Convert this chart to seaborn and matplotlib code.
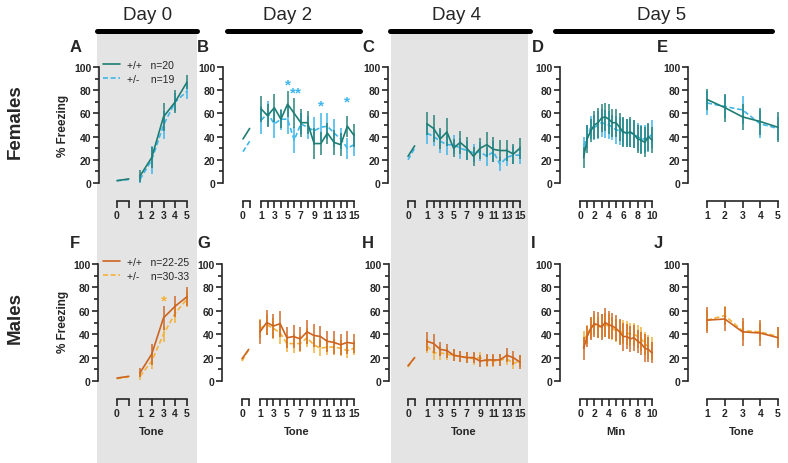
import numpy as np
import pandas as pd
import matplotlib
matplotlib.use("Agg")
import matplotlib.pyplot as plt
from matplotlib.lines import Line2D
import seaborn as sns

# ---------------- data ----------------
tones5 = [1, 2, 3, 4, 5]
tones15 = list(range(1, 16))
base_x = [0, 1]
min_x = [0.5, 1, 1.5, 2, 2.5, 3, 3.5, 4, 4.5, 5, 5.5, 6, 6.5, 7, 7.5, 8, 8.5, 9, 9.5, 10]

# Females
A_wt_base = [2, 3.5];  A_het_base = [2, 3]
A_wt = [6, 22, 57, 70, 87];  A_wt_err = [5, 9, 12, 10, 6]
A_het = [3, 20, 50, 70, 79]; A_het_err = [3, 12, 12, 8, 7]

B_wt_base = [38, 47];  B_het_base = [27, 36]
B_wt = [64, 58, 65, 55, 68, 60, 52, 52, 34, 34, 43, 35, 33, 49, 41]
B_wt_err = [11, 10, 12, 8, 11, 13, 12, 10, 13, 10, 9, 11, 10, 9, 10]
B_het = [54, 60, 51, 55, 55, 37, 51, 48, 45, 48, 49, 43, 38, 30, 33]
B_het_err = [12, 11, 12, 9, 13, 11, 9, 10, 12, 12, 11, 12, 9, 9, 10]

C_wt_base = [23, 32];  C_het_base = [20, 30]
C_wt = [51, 47, 38, 44, 30, 35, 30, 23, 30, 33, 29, 28, 28, 25, 30]
C_wt_err = [10, 12, 9, 12, 8, 10, 10, 8, 9, 11, 11, 9, 9, 9, 9]
C_het = [43, 40, 36, 33, 33, 30, 28, 26, 27, 23, 27, 16, 22, 24, 24]
C_het_err = [9, 8, 10, 9, 8, 9, 8, 8, 8, 8, 9, 6, 7, 8, 8]

D_wt = [22, 38, 45, 50, 52, 56, 57, 55, 52, 52, 48, 44, 43, 44, 42, 38, 37, 35, 40, 37]
D_wt_err = [9, 12, 10, 12, 13, 12, 12, 13, 12, 12, 12, 13, 12, 13, 12, 12, 12, 13, 12, 11]
D_het = [32, 40, 48, 48, 50, 52, 51, 50, 48, 46, 45, 44, 43, 43, 42, 40, 38, 38, 39, 42]
D_het_err = [8, 10, 10, 11, 12, 12, 12, 12, 11, 12, 12, 12, 12, 12, 12, 12, 12, 12, 12, 12]

E_wt = [72, 65, 57, 53, 48];  E_wt_err = [9, 12, 11, 12, 13]
E_het = [69, 66, 63, 51, 47]; E_het_err = [10, 10, 12, 12, 10]

# Males
F_wt_base = [2.5, 4];  F_het_base = [2, 3.5]
F_wt = [7, 23, 54, 64, 72];  F_wt_err = [4, 9, 10, 9, 8]
F_het = [4, 17, 40, 58, 70]; F_het_err = [3, 7, 7, 8, 7]

G_wt_base = [19, 27];  G_het_base = [17, 27]
G_wt = [42, 50, 47, 49, 37, 38, 36, 42, 39, 38, 34, 33, 31, 33, 32]
G_wt_err = [10, 11, 10, 11, 9, 10, 10, 10, 10, 9, 9, 10, 9, 10, 8]
G_het = [45, 48, 45, 41, 32, 32, 32, 37, 31, 28, 29, 29, 28, 26, 28]
G_het_err = [8, 9, 9, 9, 7, 8, 7, 8, 7, 7, 7, 7, 7, 6, 6]

H_wt_base = [13, 20];  H_het_base = [12, 20]
H_wt = [34, 32, 27, 26, 22, 21, 20, 20, 17, 18, 18, 18, 22, 20, 16]
H_wt_err = [8, 8, 6, 6, 5, 5, 5, 5, 5, 5, 5, 5, 6, 6, 6]
H_het = [30, 24, 24, 23, 22, 21, 20, 19, 20, 17, 17, 18, 19, 15, 17]
H_het_err = [6, 6, 6, 5, 5, 5, 5, 5, 5, 5, 5, 5, 5, 5, 5]

I_wt = [28, 38, 45, 49, 48, 46, 50, 48, 47, 45, 42, 38, 38, 36, 37, 34, 32, 28, 27, 24]
I_wt_err = [10, 9, 10, 11, 11, 11, 12, 12, 11, 11, 11, 12, 11, 11, 11, 10, 10, 12, 11, 9]
I_het = [35, 40, 45, 48, 46, 47, 48, 47, 45, 43, 42, 42, 41, 40, 40, 38, 36, 32, 29, 28]
I_het_err = [8, 8, 9, 9, 9, 10, 10, 10, 10, 10, 10, 10, 10, 10, 10, 10, 10, 10, 10, 10]

J_wt = [52, 53, 42, 41, 37];  J_wt_err = [11, 10, 12, 11, 9]
J_het = [52, 56, 43, 42, 38]; J_het_err = [9, 8, 8, 8, 8]

tick_labels_15 = [str(t) if t % 2 == 1 else "" for t in tones15]
tick_labels_min = ["0", "", "2", "", "4", "", "6", "", "8", "", "10"]

# ---------------- style ----------------
sns.set_theme(style="ticks")
plt.rcParams["font.family"] = ["Liberation Sans", "DejaVu Sans"]
plt.rcParams["axes.linewidth"] = 1.2

W, H = 788, 464
fig = plt.figure(figsize=(W / 100, H / 100), dpi=100)
PX = 72 / 100  # points per pixel

F_WT, F_HET = "#1f7d74", "#3fb6ea"
M_WT, M_HET = "#cc6420", "#f3b23a"

def rect_px(x0, x1, y0, y1, color):
    fig.patches.append(plt.Rectangle((x0 / W, 1 - y1 / H), (x1 - x0) / W, (y1 - y0) / H,
                                     transform=fig.transFigure, color=color, zorder=-10, lw=0))

rect_px(97, 197, 33, 464, "#e4e4e4")
rect_px(391, 528, 33, 464, "#e4e4e4")
for x0, x1, cx, lab in [(97, 197, 148, "Day 0"), (227, 360, 288, "Day 2"),
                        (390, 530, 457, "Day 4"), (555, 772, 662, "Day 5")]:
    fig.add_artist(Line2D([x0 / W, x1 / W], [1 - 32 / H, 1 - 32 / H], transform=fig.transFigure,
                          color="black", lw=5 * PX, solid_capstyle="round"))
    fig.text(cx / W, 1 - 15 / H, lab, ha="center", va="center", fontsize=13.5)

ROWS = {1: (68, 184), 2: (265, 382)}

def add_ax(x0, x1, row):
    yt, yb = ROWS[row]
    return fig.add_axes([x0 / W, 1 - yb / H, (x1 - x0) / W, (yb - yt) / H])

def style_y(ax, show=True):
    ax.set_ylim(0, 100)
    if show:
        ax.set_yticks([0, 20, 40, 60, 80, 100])
        ax.set_yticks(np.arange(0, 101, 10), minor=True)
        ax.spines["left"].set_bounds(0, 100)
        ax.tick_params(axis="y", which="major", length=4, width=1.2, labelsize=7.5, pad=1.5)
        ax.tick_params(axis="y", which="minor", length=3, width=1.2)
        for t in ax.get_yticklabels():
            t.set_fontweight("bold")
    else:
        ax.spines["left"].set_visible(False)
        ax.set_yticks([])
        ax.tick_params(axis="y", which="minor", length=0)

def style_x(ax, bounds, ticks, labels, minor=None):
    ax.spines["bottom"].set_position(("outward", 18 * PX))
    ax.spines["bottom"].set_bounds(*bounds)
    ax.set_xticks(ticks)
    ax.set_xticklabels(labels, fontweight="bold", fontsize=7.5)
    if minor is not None:
        ax.set_xticks(minor, minor=True)
        ax.tick_params(axis="x", which="minor", length=2.5, width=1.2)
    ax.tick_params(axis="x", which="major", length=5, width=1.2, pad=1.5)
    for s in ["top", "right"]:
        ax.spines[s].set_visible(False)
    ax.patch.set_alpha(0)
    ax.set_xlabel("")
    ax.set_ylabel("")

def series(ax, x, wt, wt_err, het, het_err, cwt, chet):
    for y, e, c, ls, a in [(het, het_err, chet, (0, (3, 1.6)), 0.85), (wt, wt_err, cwt, "-", 0.8)]:
        if e is not None:
            lo = np.array(y) - np.array(e)
            hi = np.array(y) + np.array(e)
            ax.vlines(x, lo, hi, color=c, lw=1.3, alpha=a, clip_on=False)
        sns.lineplot(x=x, y=y, ax=ax, color=c, linestyle=ls, linewidth=1.2, clip_on=False)
    ax.set_xlabel("")
    ax.set_ylabel("")

def broken_panel(spine, b0, t1, tN, n, row, base_wt, base_het, wt, wt_err, het, het_err, cwt, chet, tlabels):
    s = (tN - t1) / (n - 1)
    axb = add_ax(spine, b0 + s + 4, row)
    axb.set_xlim(-(b0 - spine) / s, 1 + 4 / s)
    series(axb, base_x, base_wt, None, base_het, None, cwt, chet)
    style_y(axb, True)
    style_x(axb, (0, 1), [0, 1], ["0", ""])
    axt = add_ax(t1 - 6, tN + 6, row)
    xs = list(range(1, n + 1))
    axt.set_xlim(1 - 6 / s, n + 6 / s)
    series(axt, xs, wt, wt_err, het, het_err, cwt, chet)
    style_y(axt, False)
    style_x(axt, (1, n), xs, tlabels)
    return axb, axt

def simple_panel(spine, x0px, x1px, xmin, xmax, row, x, wt, wt_err, het, het_err, cwt, chet,
                 ticks, labels, minor=None):
    s = (x1px - x0px) / (xmax - xmin)
    ax = add_ax(spine, x1px + 5, row)
    ax.set_xlim(xmin - (x0px - spine) / s, xmax + 5 / s)
    series(ax, x, wt, wt_err, het, het_err, cwt, chet)
    style_y(ax, True)
    style_x(ax, (xmin, xmax), ticks, labels, minor)
    return ax

# Row 1: Females
axA_b, axA = broken_panel(99, 117, 140, 187, 5, 1, A_wt_base, A_het_base, A_wt, A_wt_err,
                          A_het, A_het_err, F_WT, F_HET, [str(t) for t in tones5])
axB_b, axB = broken_panel(223, 243, 261, 354, 15, 1, B_wt_base, B_het_base, B_wt, B_wt_err,
                          B_het, B_het_err, F_WT, F_HET, tick_labels_15)
axC_b, axC = broken_panel(388, 408, 427, 520, 15, 1, C_wt_base, C_het_base, C_wt, C_wt_err,
                          C_het, C_het_err, F_WT, F_HET, tick_labels_15)
axD = simple_panel(560, 580, 652, 0, 10, 1, min_x, D_wt, D_wt_err, D_het, D_het_err, F_WT, F_HET,
                   list(range(0, 11)), tick_labels_min)
axE = simple_panel(688, 707, 778, 1, 5, 1, tones5, E_wt, E_wt_err, E_het, E_het_err, F_WT, F_HET,
                   tones5, [str(t) for t in tones5])

# Row 2: Males
axF_b, axF = broken_panel(98, 117, 140, 187, 5, 2, F_wt_base, F_het_base, F_wt, F_wt_err,
                          F_het, F_het_err, M_WT, M_HET, [str(t) for t in tones5])
axG_b, axG = broken_panel(222, 242, 260, 354, 15, 2, G_wt_base, G_het_base, G_wt, G_wt_err,
                          G_het, G_het_err, M_WT, M_HET, tick_labels_15)
axH_b, axH = broken_panel(389, 408, 427, 520, 15, 2, H_wt_base, H_het_base, H_wt, H_wt_err,
                          H_het, H_het_err, M_WT, M_HET, tick_labels_15)
axI = simple_panel(560, 580, 652, 0, 10, 2, min_x, I_wt, I_wt_err, I_het, I_het_err, M_WT, M_HET,
                   list(range(0, 11)), tick_labels_min)
axJ = simple_panel(688, 707, 778, 1, 5, 2, tones5, J_wt, J_wt_err, J_het, J_het_err, M_WT, M_HET,
                   tones5, [str(t) for t in tones5])

# significance stars
for x, y, t in [(5, 79, "*"), (6.3, 72, "**"), (10, 61, "*"), (14, 64, "*")]:
    axB.text(x, y, t, color=F_HET, ha="center", va="bottom", fontsize=11, fontweight="bold")
axF.text(3, 63, "*", color=M_HET, ha="center", va="bottom", fontsize=11, fontweight="bold")

# legends
for ax, labs, cwt, chet, row in [(axA_b, ["+/+   n=20", "+/-    n=19"], F_WT, F_HET, 1),
                                 (axF_b, ["+/+   n=22-25", "+/-    n=30-33"], M_WT, M_HET, 2)]:
    handles = [Line2D([], [], color=cwt, lw=1.2), Line2D([], [], color=chet, lw=1.2, ls=(0, (3, 1.6)))]
    yt = ROWS[row][0]
    fig.legend(handles, labs, loc="upper left", bbox_to_anchor=(103 / W, 1 - (yt - 7) / H),
               frameon=False, fontsize=7.5, handlelength=1.6, handletextpad=0.75,
               labelspacing=0.35, borderpad=0, borderaxespad=0)

# y labels, row labels, x labels
fig.text(63 / W, 1 - 126 / H, "% Freezing", rotation=90, ha="center", va="center",
         fontsize=8.5, fontweight="bold")
fig.text(63 / W, 1 - 322 / H, "% Freezing", rotation=90, ha="center", va="center",
         fontsize=8.5, fontweight="bold")
fig.text(15 / W, 1 - 122 / H, "Females", rotation=90, ha="center", va="center",
         fontsize=13.5, fontweight="bold")
fig.text(15 / W, 1 - 318 / H, "Males", rotation=90, ha="center", va="center",
         fontsize=13.5, fontweight="bold")
for cx, lab in [(152, "Tone"), (297, "Tone"), (464, "Tone"), (616, "Min"), (742, "Tone")]:
    fig.text(cx / W, 1 - 432 / H, lab, ha="center", va="center", fontsize=8, fontweight="bold")

# panel letters
for x, y, lab in [(70, 48, "A"), (197, 48, "B"), (362, 48, "C"), (532, 48, "D"), (657, 48, "E"),
                  (70, 244, "F"), (197, 244, "G"), (362, 244, "H"), (531, 244, "I"), (654, 244, "J")]:
    fig.text(x / W, 1 - y / H, lab, ha="left", va="center", fontsize=12, fontweight="bold")

fig.savefig("out.png", dpi=100)
